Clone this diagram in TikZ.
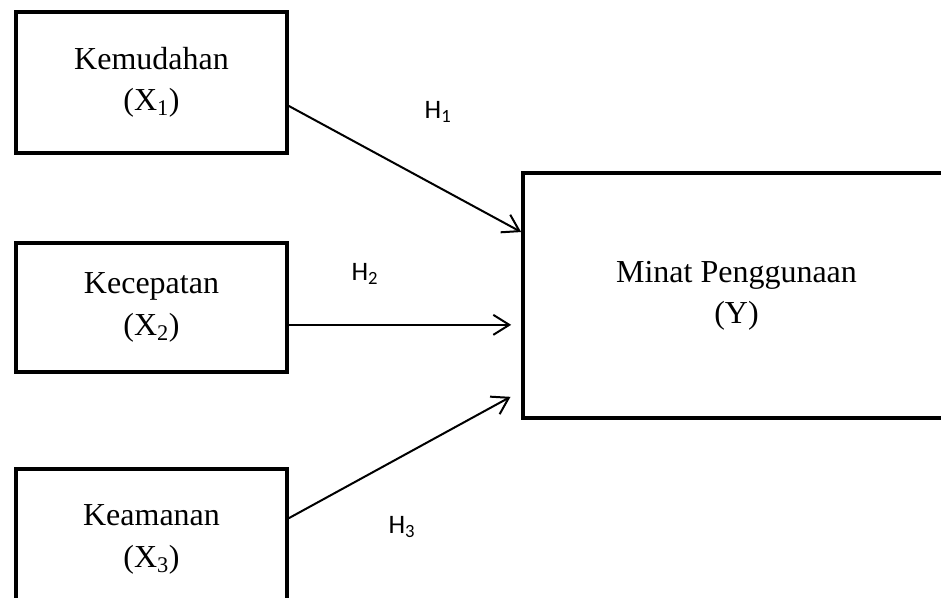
\documentclass[tikz,border=0pt]{standalone}
\usepackage{fontspec}
\setmainfont{Liberation Serif}
\newfontfamily\hfont{Carlito}
\usepackage{tikz}
\usetikzlibrary{positioning,arrows.meta}

\begin{document}
\begin{tikzpicture}[x=0.75pt, y=-0.75pt, >={Straight Barb[length=12pt,width=15pt]},
    var/.style={draw, line width=3pt, align=center, inner sep=0pt,
        font=\fontsize{24}{31}\selectfont},
    hyp/.style={font=\hfont\fontsize{20}{24}\selectfont, fill=white, inner sep=4pt},
    link/.style={->, line width=1.5pt}]
    \clip (0,0) rectangle (941,597);
    \fill[white] (0,0) rectangle (941,597);

    % Nodes
    \node[var, minimum width=203pt, minimum height=106pt] (X1) at (151.5,82.5) {Kemudahan\\(X\textsubscript{1})};
    \node[var, minimum width=203pt, minimum height=97pt] (X2) at (151.5,307.5) {Kecepatan\\(X\textsubscript{2})};
    \node[var, minimum width=203pt, minimum height=106pt] (X3) at (151.5,539.5) {Keamanan\\(X\textsubscript{3})};
    \node[var, minimum width=320pt, minimum height=184pt] (Y) at (736.5,295.5) {Minat Penggunaan\\(Y)};

    % Labels
    \node[hyp] (H1) at (438,112) {H\textsubscript{1}};
    \node[hyp] (H2) at (365,274) {H\textsubscript{2}};
    \node[hyp] (H3) at (402,527) {H\textsubscript{3}};

    % Arrows
    \draw[link] ([yshift=-17.6pt]X1.east) -- ([yshift=47.6pt]Y.west);
    \draw[link] ([yshift=-13pt]X2.east) -- ([xshift=-7.5pt, yshift=-22pt]Y.west);
    \draw[link] ([yshift=16pt]X3.east) -- ([xshift=-8pt, yshift=-76pt]Y.west);
\end{tikzpicture}
\end{document}
